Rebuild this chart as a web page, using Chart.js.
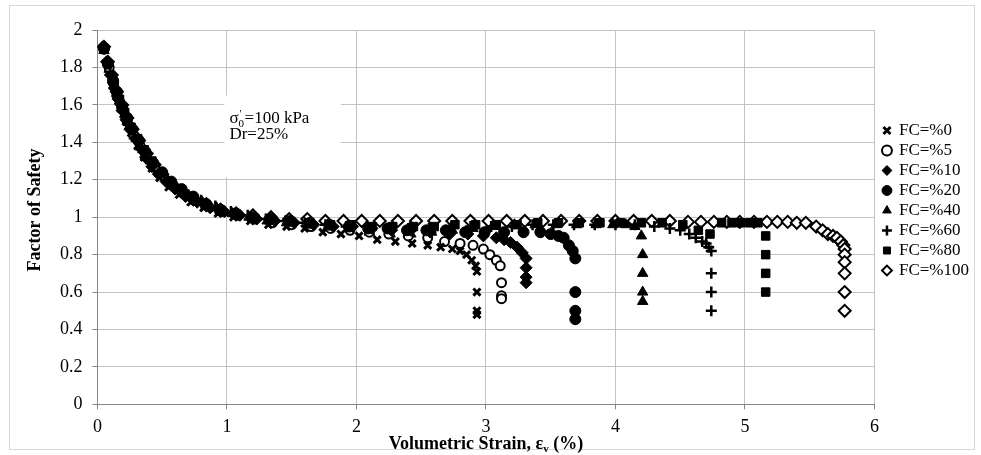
<!DOCTYPE html>
<html>
<head>
<meta charset="utf-8">
<script src="https://cdn.jsdelivr.net/npm/chart.js@4.4.1/dist/chart.umd.min.js"></script>
<style>
  html, body { margin: 0; padding: 0; background: #fff; }
</style>
</head>
<body>
<canvas id="fsChart" width="981" height="455"></canvas>
<script>
// values
const seriesNames = ['FC=%0', 'FC=%5', 'FC=%10', 'FC=%20', 'FC=%40', 'FC=%60', 'FC=%80', 'FC=%100'];

const fc0X = [0.05,0.08,0.11,0.14,0.18,0.22,0.26,0.31,0.36,0.42,0.48,0.55,0.63,0.72,0.82,0.93,1.05,1.18,1.32,1.46,1.6,1.74,1.88,2.02,2.16,2.3,2.43,2.55,2.65,2.74,2.8,2.85,2.89,2.92,2.93,2.93,2.93,2.93];
const fc0Y = [1.9,1.81,1.73,1.66,1.58,1.51,1.45,1.38,1.32,1.26,1.21,1.16,1.12,1.08,1.05,1.02,1.0,0.98,0.96,0.95,0.94,0.92,0.91,0.9,0.88,0.87,0.86,0.85,0.84,0.83,0.82,0.8,0.77,0.74,0.71,0.6,0.5,0.48];

const fc5X = [0.05,0.09,0.12,0.15,0.19,0.23,0.28,0.33,0.38,0.44,0.51,0.58,0.66,0.75,0.85,0.96,1.08,1.21,1.35,1.5,1.65,1.8,1.95,2.1,2.25,2.4,2.55,2.68,2.8,2.9,2.98,3.03,3.08,3.11,3.12,3.12,3.12];
const fc5Y = [1.9,1.8,1.72,1.65,1.58,1.51,1.44,1.38,1.33,1.27,1.22,1.17,1.13,1.09,1.06,1.03,1.01,0.99,0.97,0.96,0.95,0.94,0.93,0.92,0.91,0.9,0.89,0.87,0.86,0.85,0.83,0.8,0.77,0.74,0.65,0.58,0.565];

const fc10X = [0.04,0.07,0.1,0.13,0.16,0.19,0.22,0.25,0.29,0.33,0.37,0.42,0.47,0.53,0.6,0.68,0.77,0.87,0.98,1.1,1.23,1.37,1.52,1.67,1.82,1.97,2.12,2.27,2.42,2.57,2.72,2.86,2.98,3.08,3.14,3.19,3.24,3.28,3.31,3.31,3.31,3.31];
const fc10Y = [1.91,1.83,1.76,1.69,1.63,1.57,1.52,1.47,1.42,1.37,1.32,1.27,1.23,1.19,1.15,1.11,1.08,1.05,1.03,1.01,0.99,0.98,0.97,0.96,0.95,0.95,0.94,0.93,0.93,0.92,0.91,0.91,0.9,0.89,0.88,0.865,0.84,0.81,0.78,0.73,0.68,0.65];

const fc20X = [0.05,0.08,0.12,0.15,0.19,0.23,0.27,0.32,0.37,0.43,0.5,0.57,0.65,0.74,0.84,0.95,1.07,1.2,1.34,1.49,1.64,1.79,1.94,2.09,2.24,2.39,2.54,2.69,2.84,2.99,3.14,3.29,3.42,3.5,3.56,3.6,3.64,3.67,3.69,3.69,3.69,3.69];
const fc20Y = [1.9,1.82,1.73,1.67,1.59,1.53,1.47,1.41,1.35,1.29,1.24,1.19,1.15,1.11,1.07,1.04,1.02,1.0,0.99,0.98,0.97,0.96,0.95,0.94,0.94,0.93,0.93,0.93,0.92,0.92,0.92,0.92,0.92,0.91,0.9,0.89,0.85,0.82,0.78,0.6,0.5,0.455];

const fc40X = [0.05,0.09,0.13,0.17,0.21,0.25,0.3,0.35,0.41,0.47,0.54,0.62,0.71,0.81,0.92,1.04,1.17,1.31,1.46,1.62,1.78,1.94,2.1,2.26,2.42,2.58,2.74,2.9,3.06,3.22,3.38,3.54,3.7,3.85,3.98,4.08,4.15,4.2,4.21,4.21,4.21,4.21];
const fc40Y = [1.89,1.79,1.7,1.62,1.55,1.49,1.42,1.36,1.3,1.25,1.2,1.15,1.11,1.08,1.05,1.02,1.0,0.98,0.97,0.96,0.95,0.94,0.92,0.91,0.91,0.92,0.93,0.94,0.95,0.96,0.96,0.96,0.96,0.96,0.96,0.96,0.95,0.9,0.8,0.7,0.6,0.55];

const fc60X = [0.05,0.08,0.12,0.16,0.2,0.24,0.29,0.34,0.4,0.46,0.53,0.61,0.7,0.8,0.91,1.03,1.16,1.3,1.45,1.6,1.76,1.92,2.08,2.24,2.4,2.56,2.72,2.88,3.04,3.2,3.36,3.52,3.68,3.84,4.0,4.15,4.3,4.42,4.5,4.57,4.62,4.67,4.7,4.72,4.74,4.74,4.74,4.74];
const fc60Y = [1.9,1.81,1.72,1.64,1.57,1.5,1.43,1.37,1.31,1.26,1.21,1.16,1.12,1.09,1.06,1.03,1.01,0.99,0.98,0.97,0.96,0.95,0.95,0.94,0.94,0.94,0.94,0.95,0.95,0.95,0.96,0.96,0.96,0.96,0.96,0.96,0.95,0.94,0.93,0.91,0.89,0.87,0.86,0.84,0.82,0.7,0.6,0.5];

const fc80X = [0.05,0.09,0.13,0.17,0.21,0.26,0.31,0.36,0.42,0.49,0.56,0.64,0.73,0.83,0.94,1.06,1.19,1.33,1.48,1.64,1.8,1.96,2.12,2.28,2.44,2.6,2.76,2.92,3.08,3.24,3.4,3.56,3.72,3.88,4.04,4.2,4.36,4.52,4.64,4.73,4.82,4.9,4.97,5.04,5.1,5.16,5.16,5.16,5.16];
const fc80Y = [1.9,1.8,1.71,1.63,1.56,1.48,1.42,1.36,1.3,1.24,1.19,1.15,1.11,1.07,1.04,1.02,1.0,0.99,0.98,0.97,0.96,0.96,0.95,0.95,0.95,0.95,0.96,0.96,0.96,0.96,0.97,0.97,0.97,0.97,0.97,0.97,0.97,0.96,0.93,0.91,0.97,0.97,0.97,0.97,0.97,0.9,0.8,0.7,0.6];

const fc100X = [0.05,0.08,0.11,0.15,0.19,0.23,0.27,0.32,0.38,0.44,0.5,0.57,0.65,0.74,0.84,0.95,1.07,1.2,1.34,1.48,1.62,1.76,1.9,2.04,2.18,2.32,2.46,2.6,2.74,2.88,3.02,3.16,3.3,3.44,3.58,3.72,3.86,4.0,4.14,4.28,4.42,4.56,4.66,4.76,4.86,4.96,5.07,5.17,5.25,5.33,5.4,5.47,5.55,5.6,5.64,5.68,5.71,5.74,5.76,5.77,5.77,5.77,5.77,5.77,5.77];
const fc100Y = [1.91,1.83,1.76,1.67,1.6,1.53,1.47,1.41,1.34,1.28,1.23,1.18,1.14,1.1,1.07,1.04,1.02,1.01,1.0,0.99,0.99,0.98,0.98,0.98,0.98,0.98,0.98,0.98,0.98,0.98,0.98,0.98,0.98,0.98,0.98,0.98,0.98,0.98,0.98,0.98,0.98,0.975,0.975,0.975,0.975,0.975,0.975,0.975,0.975,0.975,0.97,0.97,0.95,0.93,0.91,0.9,0.89,0.87,0.85,0.83,0.8,0.76,0.7,0.6,0.5];

const xTickValues = [0, 1, 2, 3, 4, 5, 6];
const yTickValues = [0, 0.2, 0.4, 0.6, 0.8, 1, 1.2, 1.4, 1.6, 1.8, 2];
const yTickLabels = ['0', '0.2', '0.4', '0.6', '0.8', '1', '1.2', '1.4', '1.6', '1.8', '2'];

const serif = '"Liberation Serif", "Times New Roman", serif';

function pairs(xs, ys) {
  return xs.map((x, i) => ({ x: x, y: ys[i] }));
}

const markerStyles = [
  { pointStyle: 'crossRot', pointRadius: 5, pointBorderWidth: 3, pointBackgroundColor: '#000' },
  { pointStyle: 'circle', pointRadius: 4.5, pointBorderWidth: 2, pointBackgroundColor: '#fff' },
  { pointStyle: 'rectRot', pointRadius: 6, pointBorderWidth: 1, pointBackgroundColor: '#000' },
  { pointStyle: 'circle', pointRadius: 5.5, pointBorderWidth: 1, pointBackgroundColor: '#000' },
  { pointStyle: 'triangle', pointRadius: 6, pointBorderWidth: 1, pointBackgroundColor: '#000' },
  { pointStyle: 'cross', pointRadius: 5.5, pointBorderWidth: 2.5, pointBackgroundColor: '#000' },
  { pointStyle: 'rect', pointRadius: 6, pointBorderWidth: 1, pointBackgroundColor: '#000' },
  { pointStyle: 'rectRot', pointRadius: 6, pointBorderWidth: 2, pointBackgroundColor: '#fff' },
];
const seriesData = [
  pairs(fc0X, fc0Y), pairs(fc5X, fc5Y), pairs(fc10X, fc10Y), pairs(fc20X, fc20Y),
  pairs(fc40X, fc40Y), pairs(fc60X, fc60Y), pairs(fc80X, fc80Y), pairs(fc100X, fc100Y),
];
const drawOrder = [2, 3, 1, 0, 4, 5, 6, 7];

// white box with the test conditions, and the axis titles (they need sub/superscripts)
const chartText = {
  id: 'chartText',
  afterLayout(chart) {
    const lg = chart.legend;
    const dx = chart.chartArea.right + 6 - lg.left;
    lg.left += dx; lg.right += dx;
    lg.top -= 37; lg.bottom -= 37;
  },
  beforeDraw(chart) {
    const ctx = chart.ctx;
    ctx.save();
    ctx.fillStyle = '#fff';
    ctx.fillRect(0, 0, chart.width, chart.height);
    ctx.strokeStyle = '#d9d9d9';
    ctx.lineWidth = 1;
    ctx.strokeRect(9.5, 5.5, chart.width - 16, chart.height - 11);
    ctx.restore();
  },
  beforeDatasetsDraw(chart) {
    const { ctx, scales: { x, y } } = chart;
    const left = x.getPixelForValue(0.98), right = x.getPixelForValue(1.88);
    const top = y.getPixelForValue(1.65), bottom = y.getPixelForValue(1.215);
    ctx.save();
    ctx.fillStyle = '#fff';
    ctx.fillRect(left, top, right - left, bottom - top);
    ctx.fillStyle = '#000';
    ctx.textBaseline = 'alphabetic';
    let tx = left + 5;
    const ty = 123;
    ctx.font = '17px ' + serif;
    ctx.fillText('σ', tx, ty);
    tx += ctx.measureText('σ').width;
    ctx.font = '11px ' + serif;
    ctx.fillText('0', tx, ty + 4);
    ctx.fillText("'", tx + 1, ty - 6);
    tx += ctx.measureText('0').width + 0.5;
    ctx.font = '17px ' + serif;
    ctx.fillText('=100 kPa', tx, ty);
    ctx.fillText('Dr=25%', left + 5, ty + 16);
    ctx.restore();
  },
  afterDraw(chart) {
    const { ctx, chartArea } = chart;
    ctx.save();
    ctx.fillStyle = '#000';
    ctx.textBaseline = 'alphabetic';
    const big = 'bold 18px ' + serif, small = 'bold 11px ' + serif;
    ctx.font = big;
    const w1 = ctx.measureText('Volumetric Strain, ε').width;
    const w3 = ctx.measureText(' (%)').width;
    ctx.font = small;
    const w2 = ctx.measureText('v').width;
    let tx = (chartArea.left + chartArea.right) / 2 - (w1 + w2 + w3) / 2;
    const ty = 449;
    ctx.font = big;
    ctx.fillText('Volumetric Strain, ε', tx, ty);
    ctx.font = small;
    ctx.fillText('v', tx + w1, ty + 3);
    ctx.font = big;
    ctx.fillText(' (%)', tx + w1 + w2, ty);

    ctx.translate(40, 210);
    ctx.rotate(-Math.PI / 2);
    ctx.textAlign = 'center';
    ctx.fillText('Factor of Safety', 0, 0);
    ctx.restore();
  }
};

new Chart(document.getElementById('fsChart'), {
  type: 'scatter',
  data: {
    datasets: seriesNames.map((name, i) => Object.assign({
      label: name,
      data: seriesData[i],
      order: drawOrder[i],
      borderColor: '#000',
      backgroundColor: markerStyles[i].pointBackgroundColor,
      pointBorderColor: '#000',
      showLine: false,
    }, markerStyles[i])),
  },
  options: {
    responsive: false,
    animation: false,
    devicePixelRatio: 1,
    layout: { padding: { left: 50, right: 8, top: 30, bottom: 10 } },
    plugins: {
      tooltip: { enabled: false },
      legend: {
        position: 'right',
        labels: {
          usePointStyle: true,
          boxWidth: 7,
          boxHeight: 7,
          padding: 3,
          color: '#000',
          font: { family: serif, size: 17 },
          sort: (a, b) => a.datasetIndex - b.datasetIndex,
        },
      },
    },
    scales: {
      x: {
        type: 'linear',
        min: 0, max: 6,
        afterBuildTicks: s => { s.ticks = xTickValues.map(v => ({ value: v })); },
        ticks: { color: '#000', padding: 7, font: { family: serif, size: 18 } },
        grid: { color: '#c3c3c3', tickColor: '#868686', tickLength: 5 },
        border: { color: '#868686' },
      },
      y: {
        min: 0, max: 2,
        afterBuildTicks: s => { s.ticks = yTickValues.map(v => ({ value: v })); },
        ticks: {
          color: '#000', padding: 10, font: { family: serif, size: 18 },
          callback: (v, i) => yTickLabels[i],
        },
        grid: { color: '#c3c3c3', tickColor: '#868686', tickLength: 5 },
        border: { color: '#868686' },
      },
    },
  },
  plugins: [chartText],
});
</script>
</body>
</html>
